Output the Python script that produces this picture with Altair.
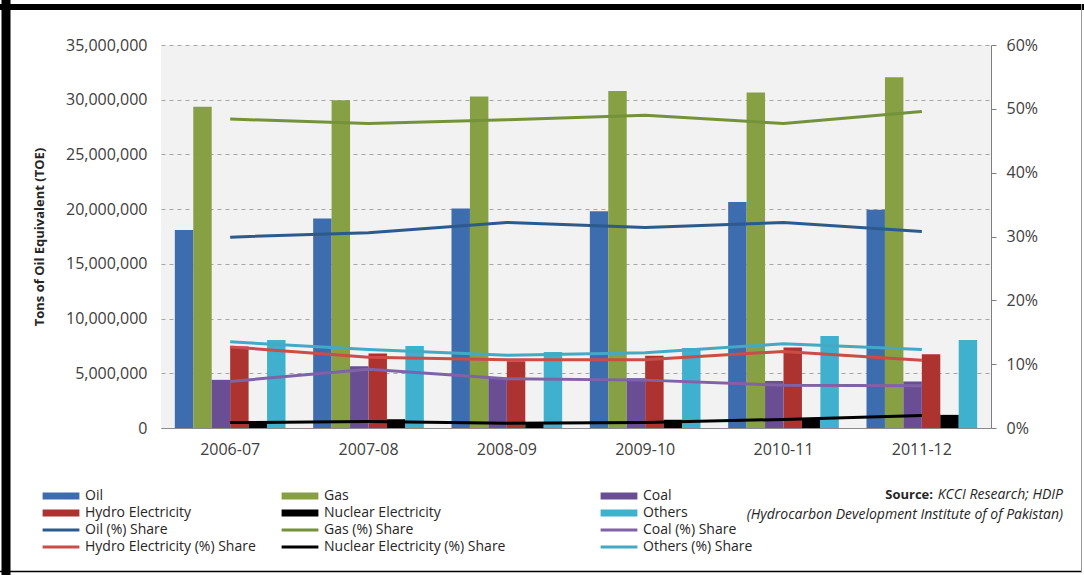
import altair as alt
import pandas as pd

years = ["2006-07", "2007-08", "2008-09", "2009-10", "2010-11", "2011-12"]
sources = ["Oil", "Gas", "Coal", "Hydro Electricity", "Nuclear Electricity", "Others"]

# Primary energy supply, tons of oil equivalent
oil = [18100000, 19150000, 20050000, 19800000, 20650000, 19950000]
gas = [29350000, 29950000, 30300000, 30800000, 30650000, 32050000]
coal = [4400000, 5650000, 4600000, 4550000, 4300000, 4250000]
hydro = [7450000, 6800000, 6100000, 6600000, 7350000, 6750000]
nuclear = [600000, 800000, 500000, 750000, 900000, 1200000]
others = [8050000, 7500000, 6950000, 7300000, 8400000, 8050000]

# Share of each source (%)
oil_share = [29.9, 30.6, 32.2, 31.4, 32.2, 30.8]
gas_share = [48.4, 47.7, 48.3, 49.0, 47.7, 49.6]
coal_share = [7.3, 9.2, 7.7, 7.5, 6.7, 6.6]
hydro_share = [12.7, 11.1, 10.7, 10.7, 12.0, 10.6]
nuclear_share = [0.85, 1.0, 0.75, 0.85, 1.35, 1.95]
others_share = [13.5, 12.3, 11.4, 11.8, 13.2, 12.3]

left_ticks = [0, 5000000, 10000000, 15000000, 20000000, 25000000, 30000000, 35000000]
right_ticks = [0, 0.1, 0.2, 0.3, 0.4, 0.5, 0.6]

toe_by_source = dict(zip(sources, [oil, gas, coal, hydro, nuclear, others]))
share_by_source = dict(zip(sources, [oil_share, gas_share, coal_share,
                                     hydro_share, nuclear_share, others_share]))

bar_colors = {
    "Oil": "#3D6DAE", "Gas": "#86A043", "Coal": "#6A4E93",
    "Hydro Electricity": "#AC3330", "Nuclear Electricity": "#000000",
    "Others": "#3FB0CE",
}
line_colors = {
    "Oil": "#2C5A8C", "Gas": "#74923A", "Coal": "#8062A6",
    "Hydro Electricity": "#CB4D48", "Nuclear Electricity": "#000000",
    "Others": "#44A9C4",
}

rows = []
for s in sources:
    for i, yr in enumerate(years):
        rows.append({
            "year": yr,
            "source": s,
            "series": f"{s} (%) Share",
            "toe": toe_by_source[s][i],
            "share": share_by_source[s][i] / 100.0,
        })
df = pd.DataFrame(rows)

FONT = "Open Sans"

# legend laid out in three columns, each column its own legend
legend_columns = [["Oil", "Hydro Electricity"], ["Gas", "Nuclear Electricity"], ["Coal", "Others"]]
legend_x = [-122, 117, 436]
BAR_SYMBOL = "M-4.6,-0.9H4.6V0.9H-4.6Z"
LINE_SYMBOL = "M-4.6,0H4.6"

x_scale = alt.Scale(paddingInner=0.2, paddingOuter=0.1)
x_axis = alt.Axis(title=None, labelAngle=0, ticks=False, domain=True,
                  domainColor="#8c8c8c", labelFont=FONT, labelFontSize=16,
                  labelColor="#404040", labelPadding=13, grid=False)

left_axis = alt.Axis(values=left_ticks, format=",.0f", title="Tons of Oil Equivalent (TOE)",
                     titleFont=FONT, titleFontWeight="bold", titleFontSize=13,
                     titleColor="#262626", titleX=-122, titleBaseline="middle",
                     labelFont=FONT, labelFontSize=16, labelColor="#404040",
                     labelPadding=14, ticks=False, domain=False, grid=True,
                     gridDash=[4, 4], gridColor="#a6a6a6", gridWidth=1)
right_axis = alt.Axis(orient="right", values=right_ticks, format=".0%", title=None,
                      grid=False, domain=True, domainColor="#7f7f7f", ticks=True,
                      tickSize=5, tickColor="#7f7f7f", labelPadding=10,
                      labelFont=FONT, labelFontSize=16, labelColor="#404040")


def make_legend(x, y, symbol, stroke_width):
    return alt.Legend(orient="none", legendX=x, legendY=y, title=None,
                      direction="vertical", symbolType=symbol, symbolSize=64,
                      symbolOffset=15, labelOffset=17, labelFont=FONT,
                      labelFontSize=14, labelColor="#262626", labelLimit=400,
                      rowPadding=3, padding=0, symbolStrokeWidth=stroke_width)


bar_layers = []
line_layers = []
for k, col in enumerate(legend_columns):
    bar_layers.append(
        alt.Chart(df)
        .transform_filter(alt.FieldOneOfPredicate(field="source", oneOf=col))
        .mark_bar()
        .encode(
            x=alt.X("year:N", sort=years, scale=x_scale, axis=x_axis),
            xOffset=alt.XOffset("source:N", sort=sources, scale=alt.Scale(domain=sources)),
            y=alt.Y("toe:Q", scale=alt.Scale(domain=[0, 35000000], nice=False),
                    axis=left_axis if k == 0 else None),
            color=alt.Color("source:N",
                            scale=alt.Scale(domain=col, range=[bar_colors[c] for c in col]),
                            legend=make_legend(legend_x[k], 444, BAR_SYMBOL, 0)),
        )
    )
    line_layers.append(
        alt.Chart(df)
        .transform_filter(alt.FieldOneOfPredicate(field="source", oneOf=col))
        .mark_line(strokeWidth=3)
        .encode(
            x=alt.X("year:N", sort=years, scale=x_scale, axis=x_axis),
            y=alt.Y("share:Q", scale=alt.Scale(domain=[0, 0.6], nice=False),
                    axis=right_axis if k == 0 else None),
            color=alt.Color("series:N",
                            scale=alt.Scale(domain=[f"{c} (%) Share" for c in col],
                                            range=[line_colors[c] for c in col]),
                            legend=make_legend(legend_x[k], 478, LINE_SYMBOL, 3)),
        )
    )

# source note
note = pd.DataFrame({"label": ["Source:"]})
note_it = pd.DataFrame({"label": ["KCCI Research; HDIP"]})
note_it2 = pd.DataFrame({"label": ["(Hydrocarbon Development Institute of of Pakistan)"]})

src1 = alt.Chart(note).mark_text(font=FONT, fontSize=13, fontWeight="bold", align="right",
                                 baseline="middle", color="#262626").encode(
    x=alt.value(772), y=alt.value(450), text="label:N")
src2 = alt.Chart(note_it).mark_text(font=FONT, fontSize=14, fontStyle="italic", align="right",
                                    baseline="middle", color="#262626").encode(
    x=alt.value(902), y=alt.value(450), text="label:N")
src3 = alt.Chart(note_it2).mark_text(font=FONT, fontSize=14, fontStyle="italic", align="right",
                                     baseline="middle", color="#262626").encode(
    x=alt.value(902), y=alt.value(470), text="label:N")

# page frame
one = pd.DataFrame({"k": [0]})
frame_top = alt.Chart(one).mark_rule(color="black", strokeWidth=6).encode(
    x=alt.value(-161), x2=alt.value(923), y=alt.value(-38))
frame_left = alt.Chart(one).mark_rule(color="black", strokeWidth=9).encode(
    x=alt.value(-155), y=alt.value(-45), y2=alt.value(530))
frame_bottom = alt.Chart(one).mark_rule(color="black", strokeWidth=1.5).encode(
    x=alt.value(-161), x2=alt.value(921), y=alt.value(526.5))
frame_right = alt.Chart(one).mark_rule(color="#9a9a9a", strokeWidth=1).encode(
    x=alt.value(920.5), y=alt.value(-41), y2=alt.value(527))

chart = (
    alt.layer(*bar_layers, *line_layers, src1, src2, src3,
              frame_top, frame_left, frame_bottom, frame_right)
    .resolve_scale(y="independent", color="independent")
    .properties(
        width=830, height=383,
        autosize=alt.AutoSizeParams(type="none"),
        padding={"left": 161, "top": 45, "right": 93, "bottom": 147},
        background="white",
    )
    .configure_view(fill="#F2F2F2", strokeWidth=0)
)

chart.save("out.html", embed_options={"renderer": "svg", "actions": False})
